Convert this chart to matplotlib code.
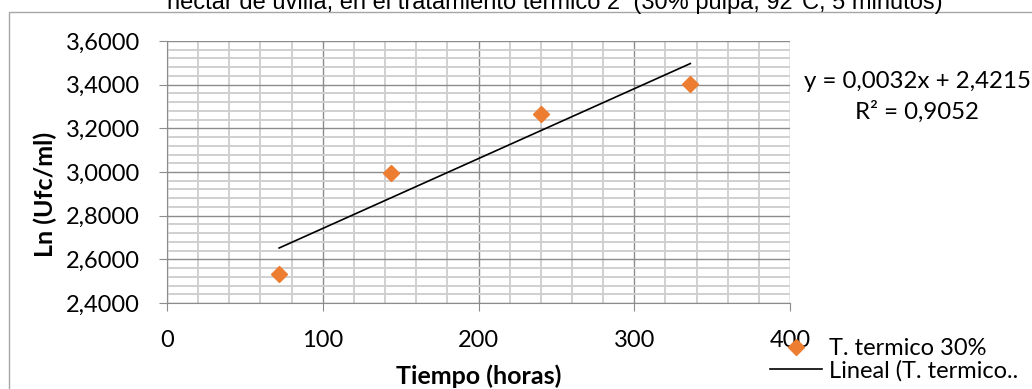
import numpy as np
import matplotlib
import matplotlib.pyplot as plt
from matplotlib.patches import Rectangle
from matplotlib.ticker import MultipleLocator, FuncFormatter

matplotlib.rcParams['font.family'] = ['Lato', 'DejaVu Sans']

# conteo microbiano, tratamiento termico 2
horas = [72, 144, 240, 336]
ln_ufc = [2.533, 2.995, 3.266, 3.402]
pendiente = 0.0032
intercepto = 2.4215
r2 = 0.9052

fig = plt.figure(figsize=(10.32, 3.89), dpi=100)
ax = fig.add_axes([167/1032, 1 - 303/389, 623/1032, 262/389])

# marco exterior del grafico
fig.patches.append(Rectangle((9/1032, -0.2), 1.2, 1 - 12/389 + 0.2,
                             transform=fig.transFigure, fill=False,
                             edgecolor='#a6a6a6', lw=1.0))

ax.plot(horas, ln_ufc, 'D', color='#ED7D31', markersize=8, label='T. termico 30%')
xt = np.array([min(horas), max(horas)])
ax.plot(xt, pendiente * xt + intercepto, color='black', lw=1.2,
        label='Lineal (T. termico..')

ax.set_xlim(0, 400)
ax.set_ylim(2.4, 3.6)
ax.xaxis.set_major_locator(MultipleLocator(100))
ax.xaxis.set_minor_locator(MultipleLocator(20))
ax.yaxis.set_major_locator(MultipleLocator(0.2))
ax.yaxis.set_minor_locator(MultipleLocator(0.04))
ax.yaxis.set_major_formatter(FuncFormatter(lambda v, p: f'{v:.4f}'.replace('.', ',')))
ax.grid(which='major', color='#8c8c8c', lw=1.0)
ax.grid(which='minor', color='#d0d0d0', lw=1.4)
ax.set_axisbelow(True)

for s in ['top', 'right']:
    ax.spines[s].set_visible(False)
for s in ['left', 'bottom']:
    ax.spines[s].set_color('#8c8c8c')
ax.tick_params(which='major', length=5.5, color='#8c8c8c', labelsize=17)
ax.tick_params(axis='y', pad=14)
ax.tick_params(axis='x', pad=14)
ax.tick_params(which='minor', length=0)

ax.set_ylabel('Ln (Ufc/ml)', fontsize=18, fontweight='bold')
ax.set_xlabel('Tiempo (horas)', fontsize=18, fontweight='bold')
ax.yaxis.set_label_coords(45/1032, 0.5, transform=fig.transFigure)
ax.yaxis.label.set_va('center')
ax.xaxis.set_label_coords(0.5, 1 - 376/389)
ax.xaxis.label.set_transform(matplotlib.transforms.blended_transform_factory(ax.transAxes, fig.transFigure))
ax.xaxis.label.set_va('center')

fig.text(555/1032, 1 - 9/389, 'nectar de uvilla, en el tratamiento termico 2  (30% pulpa, 92°C, 5 minutos)',
         ha='center', va='baseline', fontsize=17, family=['Liberation Sans Narrow', 'Liberation Sans'])

fig.text(917/1032, 1 - 82/389, f'y = {pendiente:.4f}x + {intercepto:.4f}'.replace('.', ','),
         ha='center', va='center', fontsize=17.3)
fig.text(917/1032, 1 - 112/389, f'R² = {r2:.4f}'.replace('.', ','),
         ha='center', va='center', fontsize=17.3)

fig.legend(loc='upper left', bbox_to_anchor=(770/1032, 1 - 338/389), frameon=False,
           fontsize=17, handlelength=2.2, handletextpad=0.3, labelspacing=0.05,
           borderaxespad=0, borderpad=0)

fig.savefig('out.png', dpi=100)
